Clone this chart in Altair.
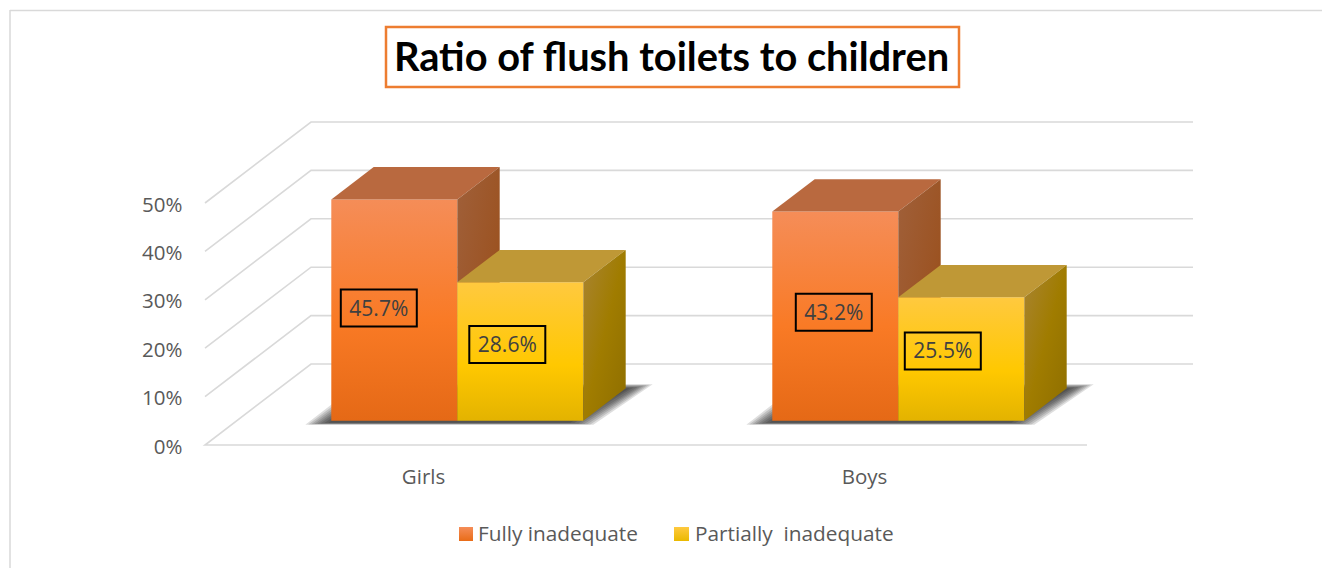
import altair as alt
import pandas as pd

# Chart data
categories = ["Girls", "Boys"]
series_names = ["Fully inadequate", "Partially\u00a0 inadequate"]
fully_inadequate = [45.7, 43.2]
partially_inadequate = [28.6, 25.5]
y_ticks = [0, 10, 20, 30, 40, 50]
title_text = "Ratio of flush toilets to children"

TITLE_FONT = "Lato"
FONT = "Open Sans"
W, H = 1322, 568

# Plot geometry: pixels per data unit and the oblique projection used for the 3-D look
ORIGIN_X, ORIGIN_Y = 205, 445
PX_PER_CAT = 441
PX_PER_PCT = 48.4 / 10
DEPTH_PX_X, DEPTH_PX_Y = 106, 81
BAR_W = 126 / PX_PER_CAT
D_FRONT, D_BACK = 0.3, 0.7

x_scale = alt.Scale(domain=[-ORIGIN_X / PX_PER_CAT, (W - ORIGIN_X) / PX_PER_CAT], nice=False, zero=False)
y_scale = alt.Scale(domain=[(ORIGIN_Y - H) / PX_PER_PCT, ORIGIN_Y / PX_PER_PCT], nice=False, zero=False)

# The same axis definitions are shared by every layer so that they merge into one pair of axes
x_label_expr = f"datum.value < 1 ? '{categories[0]}' : '{categories[1]}'"
x_axis = alt.Axis(
    values=[0.5, 1.5], labelExpr=x_label_expr, title=None, grid=False, domain=False, ticks=False,
    offset=-(H - 467), labelPadding=0, labelOffset=-2.5, labelFont=FONT, labelFontSize=20.5,
    labelColor="#595959", labelBaseline="top",
)
y_axis = alt.Axis(
    values=y_ticks, labelExpr="datum.value + '%'", title=None, grid=False, domain=False, ticks=False,
    offset=-182, labelPadding=0, labelOffset=2, labelFont=FONT, labelFontSize=20.5,
    labelColor="#595959", labelBaseline="middle",
)


def px(cat, depth=0.0, nudge=0.0):
    return cat + (depth * DEPTH_PX_X + nudge) / PX_PER_CAT


def py(val, depth=0.0, nudge=0.0):
    # positive nudge moves up the page
    return val + (depth * DEPTH_PX_Y + nudge) / PX_PER_PCT


X = lambda f="x": alt.X(f"{f}:Q", scale=x_scale, axis=x_axis)
Y = lambda f="y": alt.Y(f"{f}:Q", scale=y_scale, axis=y_axis)


def vgrad(stops):
    return alt.Gradient(
        gradient="linear", x1=0, x2=0, y1=0, y2=1,
        stops=[alt.GradientStop(offset=o, color=c) for o, c in stops],
    )


def dgrad(stops):
    return alt.Gradient(
        gradient="linear", x1=0, x2=1, y1=0, y2=1,
        stops=[alt.GradientStop(offset=o, color=c) for o, c in stops],
    )


FACE = {
    "orange": {
        "front": vgrad([(0, "#f58d58"), (0.55, "#f97a25"), (1, "#e56916")]),
        "top": "#b9693f",
        "side": dgrad([(0, "#a0603a"), (0.6, "#9c5424"), (1, "#96490f")]),
    },
    "yellow": {
        "front": vgrad([(0, "#ffc93f"), (0.6, "#ffc800"), (1, "#e3b300")]),
        "top": "#bf9836",
        "side": dgrad([(0, "#a98433"), (0.5, "#a07c00"), (1, "#8e6e00")]),
    },
}
LEGEND_FILL = [
    vgrad([(0, "#f58d58"), (1, "#e96c17")]),
    vgrad([(0, "#ffc93f"), (1, "#eab900")]),
]

layers = []
frame = pd.DataFrame({"a": [0]})

# Gridlines run from the front edge, back along the side wall and across the back wall;
# this layer also carries the two axes
grid_rows = []
for t in y_ticks:
    pts = [(0, t, 0), (px(0, 1), py(t, 1), 1), (px(2, 1), py(t, 1), 2)]
    if t == 0:
        pts = [(2, t, -1)] + pts
    for x_, y_, k in pts:
        grid_rows.append({"x": x_, "y": y_, "tick": t, "k": k})
layers.append(
    alt.Chart(pd.DataFrame(grid_rows)).mark_line(color="#d9d9d9", strokeWidth=1.6).encode(
        x=X(), y=Y(), detail="tick:N", order="k:Q",
    )
)

# Frame lines along the top and left edges
layers.append(alt.Chart(frame).mark_rule(color="#d9d9d9", strokeWidth=1.5).encode(
    x=alt.value(10), y=alt.value(10), y2=alt.value(H)))
layers.append(alt.Chart(frame).mark_rule(color="#d9d9d9", strokeWidth=1.5).encode(
    x=alt.value(10), x2=alt.value(W), y=alt.value(10.5)))

# Soft floor shadows: nested parallelograms that darken towards the bars
for group in range(len(categories)):
    lft = group + 0.5 - BAR_W
    rgt = group + 0.5 + BAR_W
    for grow in (0, -3, -6, -9, -12, -15, -19, -23):
        spread = (grow + 23) / 23
        rows = [
            {"y": py(0, D_FRONT, -2 - 2 * spread), "x": px(lft, D_FRONT, -26 - grow), "x2": px(rgt, D_FRONT, 10 + grow)},
            {"y": py(0, D_BACK, 4 * spread), "x": px(lft, D_BACK, -16 - grow), "x2": px(rgt, D_BACK, 27 + grow)},
        ]
        layers.append(
            alt.Chart(pd.DataFrame(rows)).mark_area(orient="horizontal", color="#000000", opacity=0.13).encode(
                x=X(), x2="x2:Q", y=Y())
        )


def bar_faces(group, offset, value, palette):
    """Front, top and side faces of one bar, placed by category, series offset and value."""
    left, right = group + 0.5 + offset * BAR_W - BAR_W, group + 0.5 + offset * BAR_W
    faces = []
    faces.append(
        alt.Chart(pd.DataFrame([{"x": px(left, D_FRONT), "x2": px(right, D_FRONT),
                                 "y": py(value, D_FRONT), "y2": py(0, D_FRONT)}]))
        .mark_rect(color=FACE[palette]["front"]).encode(x=X(), x2="x2:Q", y=Y(), y2="y2:Q")
    )
    top_rows = [
        {"y": py(value, D_FRONT), "x": px(left, D_FRONT), "x2": px(right, D_FRONT)},
        {"y": py(value, D_BACK), "x": px(left, D_BACK), "x2": px(right, D_BACK)},
    ]
    faces.append(
        alt.Chart(pd.DataFrame(top_rows)).mark_area(orient="horizontal", color=FACE[palette]["top"])
        .encode(x=X(), x2="x2:Q", y=Y())
    )
    side_rows = [
        {"x": px(right, D_FRONT), "y": py(value, D_FRONT), "y2": py(0, D_FRONT)},
        {"x": px(right, D_BACK), "y": py(value, D_BACK), "y2": py(0, D_BACK)},
    ]
    faces.append(
        alt.Chart(pd.DataFrame(side_rows)).mark_area(color=FACE[palette]["side"])
        .encode(x=X(), y=Y(), y2="y2:Q")
    )
    return faces


# Orange bars first: the yellow top faces overlap the orange side faces
for g in range(len(categories)):
    layers += bar_faces(g, 0, fully_inadequate[g], "orange")
    layers += bar_faces(g, 1, partially_inadequate[g], "yellow")

# Boxed value labels, centred on their bars and shifted by hand where they were placed off-centre
LABEL_NUDGE = {
    (0, 0): (-15.5, 2),
    (0, 1): (-13, 7),
    (1, 0): (-1.5, 4),
    (1, 1): (-18.5, 8),
}
BOX_W, BOX_H = 76, 37
for g in range(len(categories)):
    for s, vals in enumerate([fully_inadequate, partially_inadequate]):
        v = vals[g]
        nx, ny = LABEL_NUDGE[(g, s)]
        centre = g + 0.5 + (s - 0.5) * BAR_W
        row = pd.DataFrame([{
            "x": px(centre, D_FRONT, nx - BOX_W / 2),
            "x2": px(centre, D_FRONT, nx + BOX_W / 2),
            "xc": px(centre, D_FRONT, nx),
            "y": py(v / 2, D_FRONT, ny + BOX_H / 2),
            "y2": py(v / 2, D_FRONT, ny - BOX_H / 2),
            "yc": py(v / 2, D_FRONT, ny),
            "label": f"{v}%",
        }])
        layers.append(alt.Chart(row).mark_rect(fillOpacity=0, stroke="#000000", strokeWidth=2).encode(
            x=X(), x2="x2:Q", y=Y(), y2="y2:Q"))
        layers.append(alt.Chart(row).mark_text(
            font=FONT, fontSize=21, color="#404040", baseline="middle", align="center", dy=1.5
        ).encode(x=X("xc"), y=Y("yc"), text="label:N"))

# Title frame; the title itself is the chart title
layers.append(alt.Chart(frame).mark_rect(fill="#ffffff", stroke="#ed7d31", strokeWidth=2.5).encode(
    x=alt.value(386), x2=alt.value(959), y=alt.value(27), y2=alt.value(87)))

# Legend
for i, name in enumerate(series_names):
    sq_x = [459, 674][i]
    sq_w = [14, 15][i]
    text_x = [478, 695][i]
    layers.append(alt.Chart(frame).mark_rect(color=LEGEND_FILL[i]).encode(
        x=alt.value(sq_x), x2=alt.value(sq_x + sq_w), y=alt.value(527), y2=alt.value(541)))
    layers.append(alt.Chart(pd.DataFrame({"name": [name]})).mark_text(
        font=FONT, fontSize=20.8, color="#595959", align="left", baseline="middle"
    ).encode(x=alt.value(text_x), y=alt.value(535), text="name:N"))

chart = alt.layer(*layers).properties(
    width=W,
    height=H,
    padding=0,
    autosize=alt.AutoSizeParams(type="none"),
    background="#ffffff",
    title=alt.TitleParams(
        text=title_text, font=TITLE_FONT, fontSize=39.8, fontWeight="bold", color="#000000",
        anchor="middle", baseline="alphabetic", offset=-71, dx=10.5, dy=40,
    ),
).configure_view(stroke=None)

chart.save("out.html", embed_options={"renderer": "svg", "actions": False})
